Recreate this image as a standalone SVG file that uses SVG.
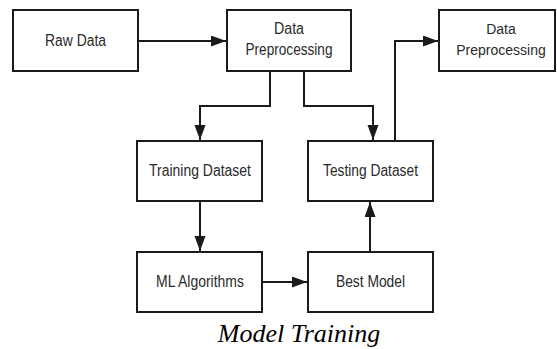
<svg xmlns="http://www.w3.org/2000/svg" width="557" height="349" viewBox="0 0 557 349">
<defs>
<style>
.box{fill:#fff;stroke:#1a1a1a;stroke-width:2}
.lbl{font-family:"Liberation Sans",Arial,sans-serif;font-size:16px;fill:#2a2a2a;text-anchor:middle}
.con{fill:none;stroke:#1a1a1a;stroke-width:2}
.cap{font-family:"Liberation Serif","Times New Roman",serif;font-style:italic;font-size:26px;fill:#000;text-anchor:middle}
</style>
<marker id="ah" markerUnits="userSpaceOnUse" markerWidth="16" markerHeight="12" refX="15" refY="5.5" orient="auto">
<path d="M0,0 L15,5.5 L0,11 z" fill="#1a1a1a"/>
</marker>
</defs>
<rect width="557" height="349" fill="#fff"/>
<g id="connectors">
<line class="con" x1="138" y1="41" x2="226" y2="41" marker-end="url(#ah)"/>
<polyline class="con" points="270,71 270,106 200,106 200,140" marker-end="url(#ah)"/>
<polyline class="con" points="304,71 304,106 373,106 373,140" marker-end="url(#ah)"/>
<polyline class="con" points="395,141 395,41 438,41" marker-end="url(#ah)"/>
<line class="con" x1="200" y1="201" x2="200" y2="251" marker-end="url(#ah)"/>
<line class="con" x1="262" y1="282" x2="307" y2="282" marker-end="url(#ah)"/>
<line class="con" x1="370" y1="252" x2="370" y2="202" marker-end="url(#ah)"/>
</g>
<g id="raw-data">
<rect class="box" x="13" y="10" width="125" height="61"/>
<text class="lbl" x="75.5" y="46" textLength="61" lengthAdjust="spacingAndGlyphs">Raw Data</text>
</g>
<g id="data-preprocessing-1">
<rect class="box" x="227" y="10" width="124" height="61"/>
<text class="lbl" x="289" y="34" textLength="30" lengthAdjust="spacingAndGlyphs">Data</text>
<text class="lbl" x="289" y="55" textLength="87" lengthAdjust="spacingAndGlyphs">Preprocessing</text>
</g>
<g id="data-preprocessing-2">
<rect class="box" x="439" y="10" width="116" height="61"/>
<text class="lbl" x="501" y="34" style="font-size:14px">Data</text>
<text class="lbl" x="501" y="55" style="font-size:14px">Preprocessing</text>
</g>
<g id="training-dataset">
<rect class="box" x="137" y="141" width="125" height="60"/>
<text class="lbl" x="200" y="176" textLength="102" lengthAdjust="spacingAndGlyphs">Training Dataset</text>
</g>
<g id="testing-dataset">
<rect class="box" x="308" y="141" width="125" height="60"/>
<text class="lbl" x="370.5" y="176" textLength="95" lengthAdjust="spacingAndGlyphs">Testing Dataset</text>
</g>
<g id="ml-algorithms">
<rect class="box" x="137" y="252" width="125" height="60"/>
<text class="lbl" x="200" y="287" textLength="88" lengthAdjust="spacingAndGlyphs">ML Algorithms</text>
</g>
<g id="best-model">
<rect class="box" x="308" y="252" width="125" height="60"/>
<text class="lbl" x="370.5" y="287" textLength="69" lengthAdjust="spacingAndGlyphs">Best Model</text>
</g>
<text class="cap" x="299" y="342">Model Training</text>
</svg>
